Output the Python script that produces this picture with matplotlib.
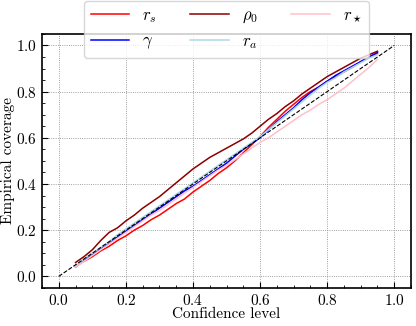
import numpy as np
import matplotlib
matplotlib.use("Agg")
import matplotlib.pyplot as plt

# confidence levels and empirical coverage
conf = [0.05, 0.075, 0.10, 0.125, 0.15, 0.175, 0.20, 0.225, 0.25, 0.275,
        0.30, 0.325, 0.35, 0.375, 0.40, 0.425, 0.45, 0.475, 0.50, 0.525,
        0.55, 0.575, 0.60, 0.625, 0.65, 0.675, 0.70, 0.725, 0.75, 0.775,
        0.80, 0.825, 0.85, 0.875, 0.90, 0.925, 0.95]

cov_rs    = [0.045, 0.065, 0.085, 0.11, 0.13, 0.155, 0.175, 0.20, 0.22, 0.245,
             0.265, 0.29, 0.315, 0.335, 0.365, 0.39, 0.415, 0.445, 0.47, 0.50,
             0.535, 0.57, 0.605, 0.645, 0.68, 0.715, 0.745, 0.775, 0.80, 0.82,
             0.845, 0.865, 0.885, 0.905, 0.93, 0.95, 0.965]
cov_gamma = [0.04, 0.07, 0.095, 0.12, 0.145, 0.17, 0.195, 0.22, 0.245, 0.27,
             0.295, 0.32, 0.345, 0.37, 0.39, 0.415, 0.44, 0.465, 0.49, 0.52,
             0.55, 0.575, 0.60, 0.635, 0.67, 0.70, 0.73, 0.765, 0.795, 0.82,
             0.845, 0.87, 0.89, 0.91, 0.93, 0.95, 0.97]
cov_rho0  = [0.06, 0.085, 0.115, 0.155, 0.19, 0.21, 0.24, 0.265, 0.295, 0.32,
             0.345, 0.375, 0.405, 0.435, 0.465, 0.49, 0.515, 0.535, 0.555, 0.575,
             0.595, 0.62, 0.65, 0.68, 0.705, 0.735, 0.76, 0.79, 0.815, 0.84,
             0.865, 0.885, 0.905, 0.925, 0.945, 0.96, 0.975]
cov_ra    = [0.045, 0.075, 0.10, 0.125, 0.15, 0.18, 0.205, 0.23, 0.255, 0.28,
             0.305, 0.33, 0.355, 0.38, 0.405, 0.43, 0.455, 0.48, 0.505, 0.53,
             0.555, 0.58, 0.605, 0.635, 0.665, 0.695, 0.725, 0.755, 0.785, 0.815,
             0.84, 0.86, 0.885, 0.905, 0.925, 0.945, 0.96]
cov_rstar = [0.04, 0.065, 0.09, 0.115, 0.14, 0.165, 0.19, 0.215, 0.24, 0.265,
             0.285, 0.31, 0.335, 0.36, 0.385, 0.41, 0.435, 0.46, 0.48, 0.505,
             0.53, 0.555, 0.58, 0.60, 0.625, 0.65, 0.675, 0.70, 0.72, 0.745,
             0.765, 0.79, 0.815, 0.845, 0.875, 0.905, 0.94]

labels = [r"$r_s$", r"$\gamma$", r"$\rho_0$", r"$r_a$", r"$r_\star$"]
colors = ["red", "blue", "darkred", "lightblue", "pink"]

plt.rcParams["font.family"] = "serif"
plt.rcParams["font.serif"] = ["cmr10"]
plt.rcParams["mathtext.fontset"] = "cm"
plt.rcParams["axes.formatter.use_mathtext"] = True
plt.rcParams["font.size"] = 11

fig = plt.figure(figsize=(4.16, 3.26), dpi=100)
ax = fig.add_axes([0.101, 0.117, 0.887, 0.779])

series = [cov_rs, cov_gamma, cov_rho0, cov_ra, cov_rstar]
for vals, lab, col in zip(series, labels, colors):
    ax.plot(conf, vals, color=col, lw=1.1, label=lab)
ax.plot([0, 1], [0, 1], "k--", lw=0.8)

ax.set_xlim(-0.05, 1.05)
ax.set_ylim(-0.05, 1.05)
ax.set_xticks([0.0, 0.2, 0.4, 0.6, 0.8, 1.0])
ax.set_yticks([0.0, 0.2, 0.4, 0.6, 0.8, 1.0])
ax.minorticks_on()
ax.tick_params(which="major", direction="in", length=4, width=0.8, pad=3.5)
ax.tick_params(which="minor", direction="in", length=2, width=0.6)
ax.grid(True, which="major", ls=":", color="gray", lw=0.6)
for s in ax.spines.values():
    s.set_linewidth(1.2)

ax.set_xlabel("Confidence level", labelpad=0)
ax.set_ylabel("Empirical coverage", labelpad=1)

ax.legend(loc="upper center", bbox_to_anchor=(0.5, 1.13), ncol=3,
          handlelength=2.3, columnspacing=2.0, fontsize=12, framealpha=0.8,
          borderaxespad=0)

fig.savefig("out.png", dpi=100)
